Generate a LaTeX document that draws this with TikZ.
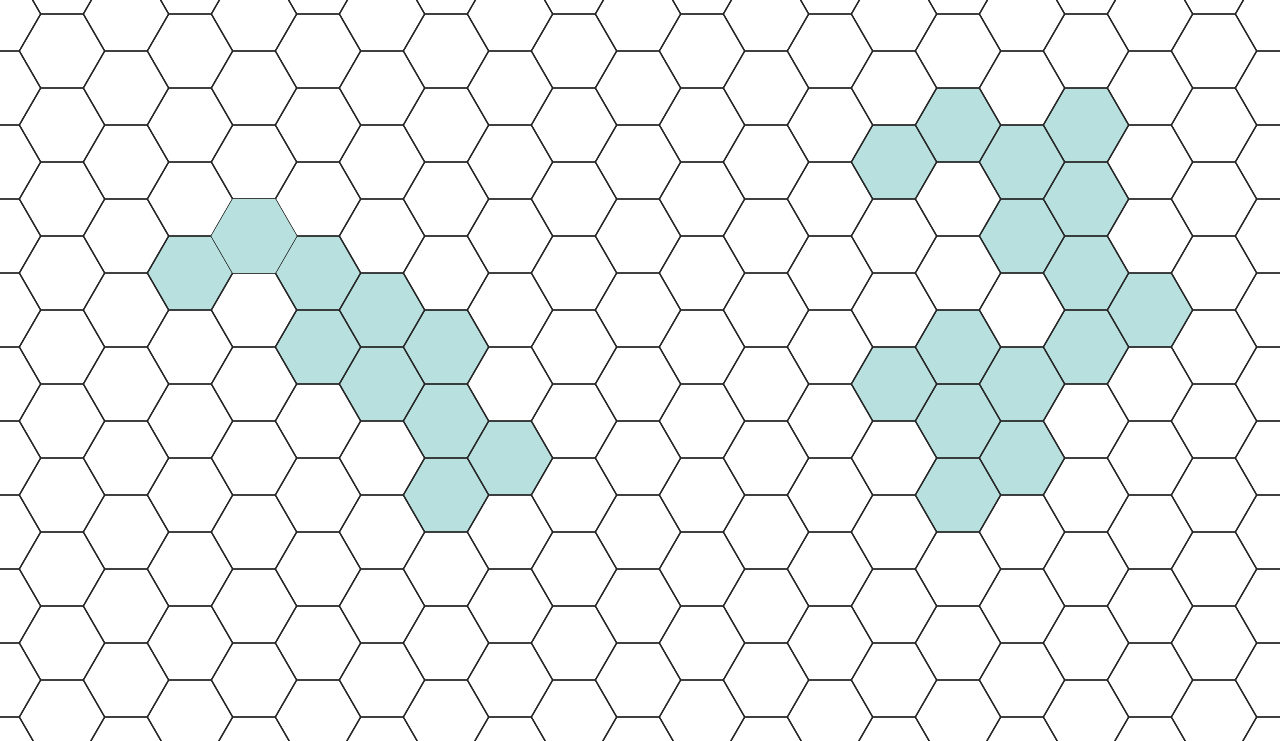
\documentclass[tikz,border=0pt]{standalone}
\definecolor{hexteal}{HTML}{B8E0DF}
\tikzset{
  cell/.style={draw=black!85, line width=.7pt, line join=round},
  marked/.style={fill=hexteal},
}
% flat-top hexagon of radius 42.67 round (#1,#2)
\newcommand{\hexpath}[2]{(#1,#2) +(0:42.67) -- +(60:42.67) -- +(120:42.67) -- +(180:42.67) -- +(240:42.67) -- +(300:42.67) -- cycle}
\begin{document}
\begin{tikzpicture}[x=.02cm,y=-.02cm]
  \useasboundingbox (0,0) rectangle (1280,740);
  \clip (0,0) rectangle (1280,740);
  \fill[white] (0,0) rectangle (1280,740);
  % marked cells, column/row
  \foreach \k/\j in {3/3,5/3,6/4,7/4,5/4,6/5,7/5,8/6,7/6,
                     14/2,15/1,16/2,17/1,17/2,16/3,17/3,18/4,17/4,
                     15/4,14/5,16/5,15/5,16/6,15/6}{
    \pgfmathsetmacro\cx{-2+64*\k}
    \pgfmathsetmacro\cy{14+74*\j+37*mod(\k,2)}
    \fill[marked] \hexpath{\cx}{\cy};
  }
  % the grid
  \foreach \k in {0,...,20}
    \foreach \j in {-1,...,10}{
      \pgfmathsetmacro\cx{-2+64*\k}
      \pgfmathsetmacro\cy{14+74*\j+37*mod(\k,2)}
      \draw[cell] \hexpath{\cx}{\cy};
    }
  % this one lies over its edges
  \fill[marked] \hexpath{254}{236};
\end{tikzpicture}
\end{document}
